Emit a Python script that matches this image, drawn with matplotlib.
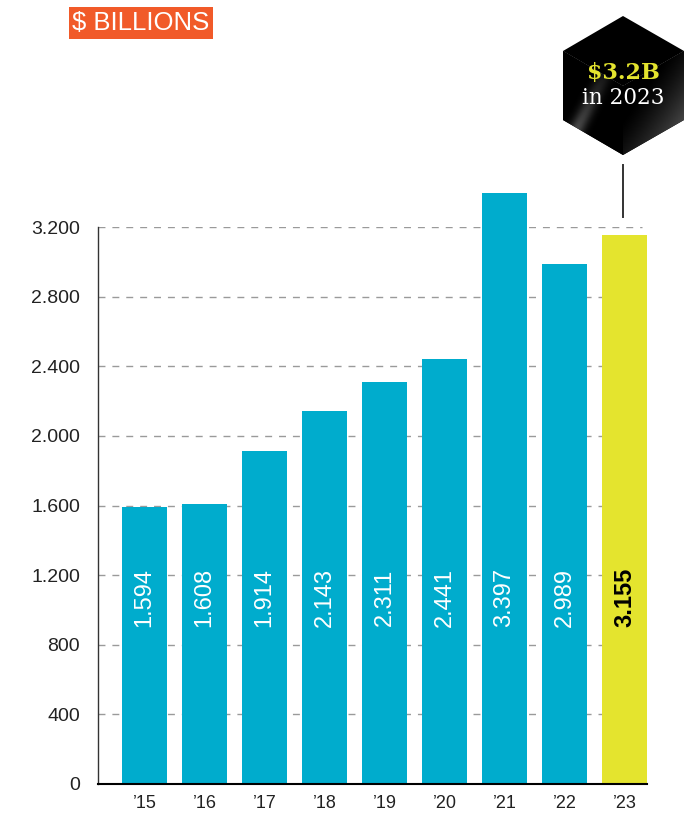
#!/usr/bin/env python3
import matplotlib

matplotlib.use("Agg")
import matplotlib.pyplot as plt
import numpy as np
from matplotlib.patches import Polygon, Rectangle

YEARS = ["’15", "’16", "’17", "’18", "’19", "’20", "’21", "’22", "’23"]
VALUES = [1594, 1608, 1914, 2143, 2311, 2441, 3397, 2989, 3155]
Y_TICKS = [0, 400, 800, 1200, 1600, 2000, 2400, 2800, 3200]
HIGHLIGHT = "’23"

BLUE = "#00ACCD"
YELLOW = "#E4E42E"
ORANGE = "#F15A29"

plt.rcParams.update({
    "font.family": ["Liberation Sans", "DejaVu Sans"],
    "font.size": 12,
})


def thousands(v: int) -> str:
    # the source uses a dot as thousands separator
    return f"{v:,}".replace(",", ".")


def draw_cube(ov):
    cx = 623
    top, ul, ll, bot = (cx, 16), (563, 51), (563, 120), (cx, 155)
    ur, lr, mid = (684, 51), (684, 120), (cx, 86)

    top_face = Polygon([top, ur, mid, ul], closed=True, fc="#000000", ec="none")
    left_face = Polygon([ul, mid, bot, ll], closed=True, fc="#000000", ec="none")
    right_face = Polygon([mid, ur, lr, bot], closed=True, fc="#000000", ec="none")
    for p in (top_face, left_face, right_face):
        ov.add_patch(p)

    # soft highlight streaks on the two lower faces
    yy, xx = np.mgrid[0:1:120j, 0:1:120j]
    right_grad = np.clip((xx * 0.6 + yy * 0.7) - 0.45, 0, 1) ** 1.4
    im = ov.imshow(right_grad, cmap="gray", vmin=0, vmax=1.9,
                   extent=(cx, 684, 155, 51), zorder=2, interpolation="bilinear")
    im.set_clip_path(right_face)

    streak = np.exp(-((xx - (1 - yy) * 0.9) ** 2) / 0.02) * yy * 0.9
    im2 = ov.imshow(streak, cmap="gray", vmin=0, vmax=2.4,
                    extent=(563, cx, 155, 51), zorder=2, interpolation="bilinear")
    im2.set_clip_path(left_face)

    ov.text(cx, 73, "$3.2B", color=YELLOW, fontsize=16, fontweight="bold",
            family="DejaVu Serif", ha="center", va="center", zorder=3)
    ov.text(cx, 98, "in 2023", color="white", fontsize=15.5,
            family="DejaVu Serif", ha="center", va="center", zorder=3)

    ov.plot([cx, cx], [165, 217], color="#333333", lw=1.4)


def main():
    fig = plt.figure(figsize=(6.99, 8.19), dpi=100)
    W, H = 699, 819
    ax = fig.add_axes([98 / W, (H - 784) / H, 549 / W, 557 / H])

    x = np.arange(len(YEARS))
    colors = [YELLOW if y == HIGHLIGHT else BLUE for y in YEARS]
    ax.bar(x, VALUES, width=0.75, color=colors, zorder=2, clip_on=False)

    for xi, v, y in zip(x, VALUES, YEARS):
        hl = y == HIGHLIGHT
        ax.text(xi, 1070, thousands(v), rotation=90, ha="center", va="center",
                fontsize=17, color="black" if hl else "white",
                fontweight="bold" if hl else "normal", zorder=3)

    for t in Y_TICKS[1:]:
        ax.axhline(t, xmin=0, xmax=0.99, color="#9a9a9a", lw=1.0,
                   dashes=(5, 5), zorder=1)

    ax.set_xlim(-0.775, 8.375)
    ax.set_ylim(0, 3200)
    ax.set_yticks(Y_TICKS)
    ax.set_yticklabels([thousands(t) for t in Y_TICKS], fontsize=14, color="#222222")
    ax.set_xticks(x)
    ax.set_xticklabels(YEARS, fontsize=13, color="#222222")
    ax.tick_params(axis="y", length=0, pad=13)
    ax.tick_params(axis="x", length=0, pad=8)

    for side in ("top", "right"):
        ax.spines[side].set_visible(False)
    ax.spines["left"].set_color("#333333")
    ax.spines["left"].set_linewidth(1.0)
    ax.spines["bottom"].set_color("black")
    ax.spines["bottom"].set_linewidth(1.5)
    ax.spines["bottom"].set_zorder(3)

    # overlay in pixel coordinates for the header box and the cube
    ov = fig.add_axes([0, 0, 1, 1], zorder=5)
    ov.set_xlim(0, W)
    ov.set_ylim(H, 0)
    ov.axis("off")
    ov.patch.set_alpha(0)

    ov.add_patch(Rectangle((69, 7), 144, 32, fc=ORANGE, ec="none"))
    ov.text(141, 23.5, "$ BILLIONS", color="white", fontsize=18.5,
            ha="center", va="center")

    draw_cube(ov)

    fig.savefig("out.png", dpi=100)
    plt.close(fig)


if __name__ == "__main__":
    main()
